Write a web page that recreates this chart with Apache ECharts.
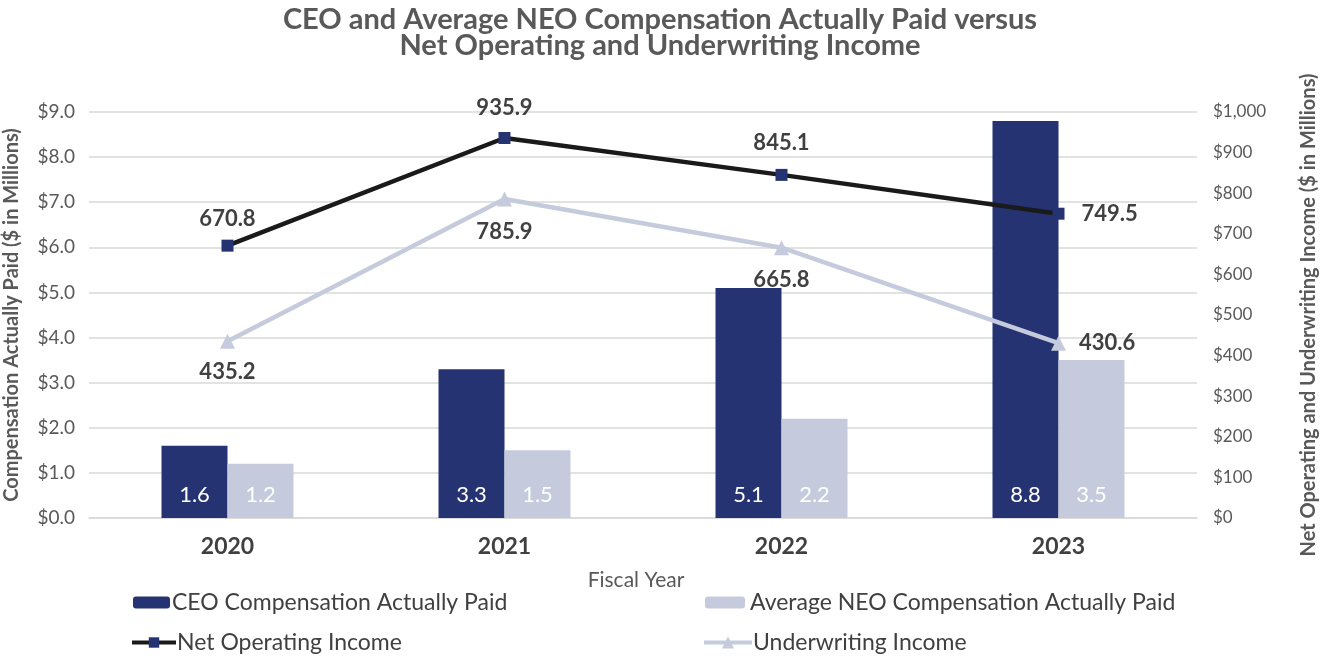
<!DOCTYPE html>
<html><head><meta charset="utf-8">
<script src="https://cdn.jsdelivr.net/npm/echarts@6/dist/echarts.min.js"></script>
<style>html,body{margin:0;padding:0;background:#fff}#c{width:1320px;height:656px}</style>
</head><body><div id="c"></div>
<script>
const years = ['2020', '2021', '2022', '2023'];
const ceoPay = [1.6, 3.3, 5.1, 8.8];
const neoPay = [1.2, 1.5, 2.2, 3.5];
const netOperatingIncome = [670.8, 935.9, 845.1, 749.5];
const underwritingIncome = [435.2, 785.9, 665.8, 430.6];

const NAVY = '#253372', LIGHT = '#c5cbdc', TXT = '#404040', AX = '#595959';
const FONT = 'Lato';

const netPos = ['top', 'top', 'top', 'right'];
const netDist = [10, 13, 15, 17];
const uwPos = ['bottom', 'bottom', 'bottom', 'right'];
const uwDist = [12, 14, 14, 13];

const legendText = { fontFamily: FONT, fontSize: 23, color: TXT };

const chart = echarts.init(document.getElementById('c'));
chart.setOption({
  animation: false,
  textStyle: { fontFamily: FONT },
  title: {
    text: 'CEO and Average NEO Compensation Actually Paid versus\nNet Operating and Underwriting Income',
    left: 'center', top: 2,
    textStyle: { fontFamily: FONT, fontSize: 29, fontWeight: 'bold', color: AX, lineHeight: 26 }
  },
  grid: { left: 89, right: 123, top: 112, bottom: 138, outerBoundsMode: 'none', containLabel: false },
  legend: [
    { data: ['CEO Compensation Actually Paid'], left: 133, top: 591, padding: 0, itemWidth: 37, itemHeight: 12,
      textStyle: Object.assign({ padding: [0, 0, 0, -3] }, legendText) },
    { data: ['Average NEO Compensation Actually Paid'], left: 705, top: 591, padding: 0, itemWidth: 40, itemHeight: 12,
      textStyle: Object.assign({ padding: [0, 0, 0, 0] }, legendText) },
    { data: ['Net Operating Income'], left: 130, top: 631, padding: 0, itemWidth: 44, itemHeight: 13,
      lineStyle: { width: 4 },
      textStyle: Object.assign({ padding: [0, 0, 0, -4] }, legendText) },
    { data: ['Underwriting Income'], left: 702, top: 631, padding: 0, itemWidth: 48, itemHeight: 15,
      lineStyle: { width: 4 },
      textStyle: Object.assign({ padding: [0, 0, 0, -4] }, legendText) }
  ],
  xAxis: {
    type: 'category', data: years,
    axisLine: { show: true, lineStyle: { color: '#d9d9d9', width: 1.5 } },
    axisTick: { show: false },
    axisLabel: { fontFamily: FONT, fontSize: 23, fontWeight: 'bold', color: TXT, margin: 17 },
    name: 'Fiscal Year', nameLocation: 'middle', nameGap: 52,
    nameTextStyle: { fontFamily: FONT, fontSize: 21, color: AX, padding: [0, 14, 0, 0] }
  },
  yAxis: [
    { type: 'value', min: 0, max: 9, interval: 1,
      axisLabel: { formatter: v => '$' + v.toFixed(1), fontFamily: FONT, fontSize: 19, color: AX, margin: 14 },
      splitLine: { lineStyle: { color: '#d9d9d9', width: 1.5 } },
      axisLine: { show: false }, axisTick: { show: false },
      name: 'Compensation Actually Paid ($ in Millions)', nameLocation: 'middle', nameGap: 67, nameRotate: 90,
      nameTextStyle: { fontFamily: FONT, fontSize: 20, fontWeight: 'bold', color: AX } },
    { type: 'value', min: 0, max: 1000, interval: 100,
      axisLabel: { formatter: v => '$' + v.toLocaleString('en-US'), fontFamily: FONT, fontSize: 17, color: AX, margin: 16 },
      splitLine: { show: false }, axisLine: { show: false }, axisTick: { show: false },
      name: 'Net Operating and Underwriting Income ($ in Millions)', nameLocation: 'middle', nameGap: 102, nameRotate: 90,
      nameTextStyle: { fontFamily: FONT, fontSize: 20, fontWeight: 'bold', color: AX } }
  ],
  series: [
    { name: 'CEO Compensation Actually Paid', type: 'bar', data: ceoPay, barWidth: 66, barGap: '0%',
      itemStyle: { color: NAVY },
      label: { show: true, position: 'insideBottom', distance: 12, color: '#fff', fontFamily: FONT, fontSize: 22,
        formatter: p => p.value.toFixed(1) } },
    { name: 'Average NEO Compensation Actually Paid', type: 'bar', data: neoPay, barWidth: 66,
      itemStyle: { color: LIGHT },
      label: { show: true, position: 'insideBottom', distance: 12, color: '#fff', fontFamily: FONT, fontSize: 22,
        formatter: p => p.value.toFixed(1) } },
    { name: 'Net Operating Income', type: 'line', yAxisIndex: 1, z: 5,
      data: netOperatingIncome.map((v, i) => ({ value: v, label: { position: netPos[i], distance: netDist[i] } })),
      lineStyle: { color: '#1a1a1a', width: 4.5 },
      itemStyle: { color: NAVY },
      symbol: 'rect', symbolSize: 12, showAllSymbol: true,
      label: { show: true, fontFamily: FONT, fontSize: 22, fontWeight: 'bold', color: TXT, formatter: p => p.value.toFixed(1) } },
    { name: 'Underwriting Income', type: 'line', yAxisIndex: 1, z: 4,
      data: underwritingIncome.map((v, i) => ({ value: v, label: { position: uwPos[i], distance: uwDist[i] } })),
      lineStyle: { color: LIGHT, width: 4.5 },
      itemStyle: { color: LIGHT },
      symbol: 'triangle', symbolSize: 15,
      label: { show: true, fontFamily: FONT, fontSize: 22, fontWeight: 'bold', color: TXT, formatter: p => p.value.toFixed(1) } }
  ]
});
</script></body></html>
